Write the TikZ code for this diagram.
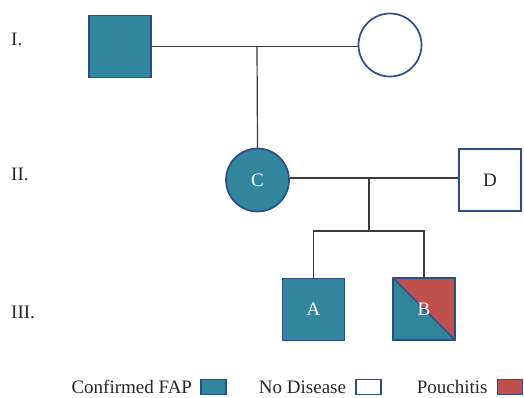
\documentclass[tikz,border=0pt]{standalone}
\usepackage{fontspec}
\setmainfont{Liberation Serif}
\usepackage{tikz}
\usetikzlibrary{positioning,calc}
\definecolor{pteal}{HTML}{31859C}
\definecolor{pnavy}{HTML}{2C4D85}
\definecolor{pred}{HTML}{C0504D}
\definecolor{pink}{HTML}{3A3A3A}

\begin{document}
\begin{tikzpicture}[x=1pt,y=-1pt,font=\fontsize{19}{21}\selectfont,
  male/.style={draw=pnavy,line width=1.7pt,rectangle,minimum size=62pt,inner sep=0pt},
  female/.style={draw=pnavy,line width=1.7pt,circle,minimum size=63pt,inner sep=0pt},
  affected/.style={fill=pteal,text=white},
  healthy/.style={fill=white,text=black!85},
  link/.style={draw=pink,line width=1.2pt},
  key/.style={draw=pnavy,line width=1.5pt,minimum width=25pt,minimum height=15pt,inner sep=0pt},
  gen/.style={anchor=base west,inner sep=0pt,text=black!85}]
\useasboundingbox (0,0) rectangle (524,397);

% ================= generation labels =================
\node[gen] (g1) at (11,45) {I.};
\node[gen] (g2) at (11,180) {II.};
\node[gen] (g3) at (11,318) {III.};

% ================= generation I =================
\node[male,affected] (father) at (120,46.5) {};
\node[female,healthy] (mother) at (390,45) {};
\coordinate (m1) at (257,46.5);

% ================= generation II =================
\node[female,affected] (C) at (257.5,180) {C};
\node[male,healthy] (D) at (490,180) {D};
\coordinate (m2) at (369,178);
\coordinate (sib) at (369,231);

% ================= generation III =================
\node[male,affected] (A) at (313.5,309.5) {A};
\node[male,affected,path picture={
    \fill[pred] (path picture bounding box.north west) -- (path picture bounding box.north east)
      -- (path picture bounding box.south east) -- cycle;
    \draw[pnavy,line width=1.7pt] (path picture bounding box.north west) -- (path picture bounding box.south east);}]
  (B) at (424,309) {B};

% connectors
\draw[link] (father.east |- m1) -- (mother.west |- m1);
\draw[link] (m1) -- (C.north);
\draw[link] (C.east |- m2) -- (D.west |- m2);
\draw[link] (m2) -- (sib);
\draw[link] (A.north) -- (A.north |- sib) -- (B.north |- sib) -- (B.north);

% ================= legend =================
\node[key,fill=pteal] (kfap) at (213.5,387) {};
\node[key,fill=white] (kno) at (368.5,387) {};
\node[key,fill=pred] (kpou) at (510,387) {};
\node[inner sep=0pt,left=8pt of kfap,text=black!85] (tfap) {Confirmed FAP};
\node[inner sep=0pt,left=9pt of kno,text=black!85] (tno) {No Disease};
\node[inner sep=0pt,left=9pt of kpou,text=black!85] (tpou) {Pouchitis};
\end{tikzpicture}
\end{document}
